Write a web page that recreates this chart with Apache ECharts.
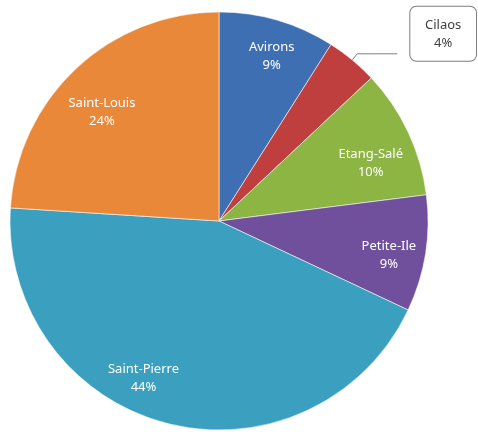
<!DOCTYPE html>
<html>
<head>
<meta charset="utf-8">
<script src="https://cdn.jsdelivr.net/npm/echarts@6/dist/echarts.min.js"></script>
<style>
  html, body { margin: 0; padding: 0; background: #fff; }
  #chart { width: 478px; height: 432px; }
</style>
</head>
<body>
<div id="chart"></div>
<script>
// communes and their share (%)
const communes = ['Avirons', 'Cilaos', 'Etang-Salé', 'Petite-Ile', 'Saint-Pierre', 'Saint-Louis']
const shares = [9, 4, 10, 9, 44, 24]
const colors = ['#3F6FB3', '#BF3F3F', '#8DB544', '#70509C', '#3BA0C0', '#EA883A']

const chart = echarts.init(document.getElementById('chart'))

const pieData = communes.map((name, i) => ({
  name: name,
  value: shares[i],
  itemStyle: { color: colors[i] }
}))

// small nudges so labels sit like the original
const labelNudge = {
  'Avirons': [5, 0],
  'Etang-Salé': [-3, 15],
  'Petite-Ile': [1, 8],
  'Saint-Pierre': [-33, -8],
  'Saint-Louis': [0, 16]
}

const option = {
  animation: false,
  series: [
    {
      type: 'pie',
      center: [219, 221],
      radius: [0, 209],
      startAngle: 90,
      clockwise: true,
      silent: true,
      itemStyle: { borderColor: 'rgba(255,255,255,0.7)', borderWidth: 0.8 },
      label: { show: false },
      labelLine: { show: false },
      labelLayout: params => params.dataIndex === 1 ? { dx: 8, dy: -20 } : {},
      data: pieData.map(d => d.name === 'Cilaos' ? Object.assign({}, d, {
        label: {
          show: true,
          position: 'outside',
          overflow: 'none',
          formatter: '{t|{b}}\n{t|{c}%}',
          backgroundColor: '#fff',
          borderColor: '#7f7f7f',
          borderWidth: 1,
          borderRadius: 6,
          padding: [9, 17],
          rich: {
            t: {
              width: 38,
              align: 'center',
              color: '#404040',
              fontFamily: 'Noto Sans',
              fontSize: 13,
              lineHeight: 18
            }
          }
        },
        labelLine: {
          show: true,
          length: 8,
          length2: 40,
          lineStyle: { color: '#7f7f7f', width: 1 }
        }
      }) : d)
    },
    {
      // transparent ring that only carries the in-slice labels
      type: 'pie',
      center: [219, 221],
      radius: [126, 210],
      startAngle: 90,
      clockwise: true,
      silent: true,
      itemStyle: { color: 'transparent' },
      labelLine: { show: false },
      label: {
        show: true,
        position: 'inside',
        formatter: '{b}\n{c}%',
        color: '#fff',
        fontFamily: 'Noto Sans',
        fontSize: 13,
        lineHeight: 18
      },
      data: pieData.map(d => ({
        name: d.name,
        value: d.value,
        label: d.name === 'Cilaos'
          ? { show: false }
          : { offset: labelNudge[d.name] || [0, 0] }
      }))
    }
  ]
}

chart.setOption(option)
</script>
</body>
</html>
